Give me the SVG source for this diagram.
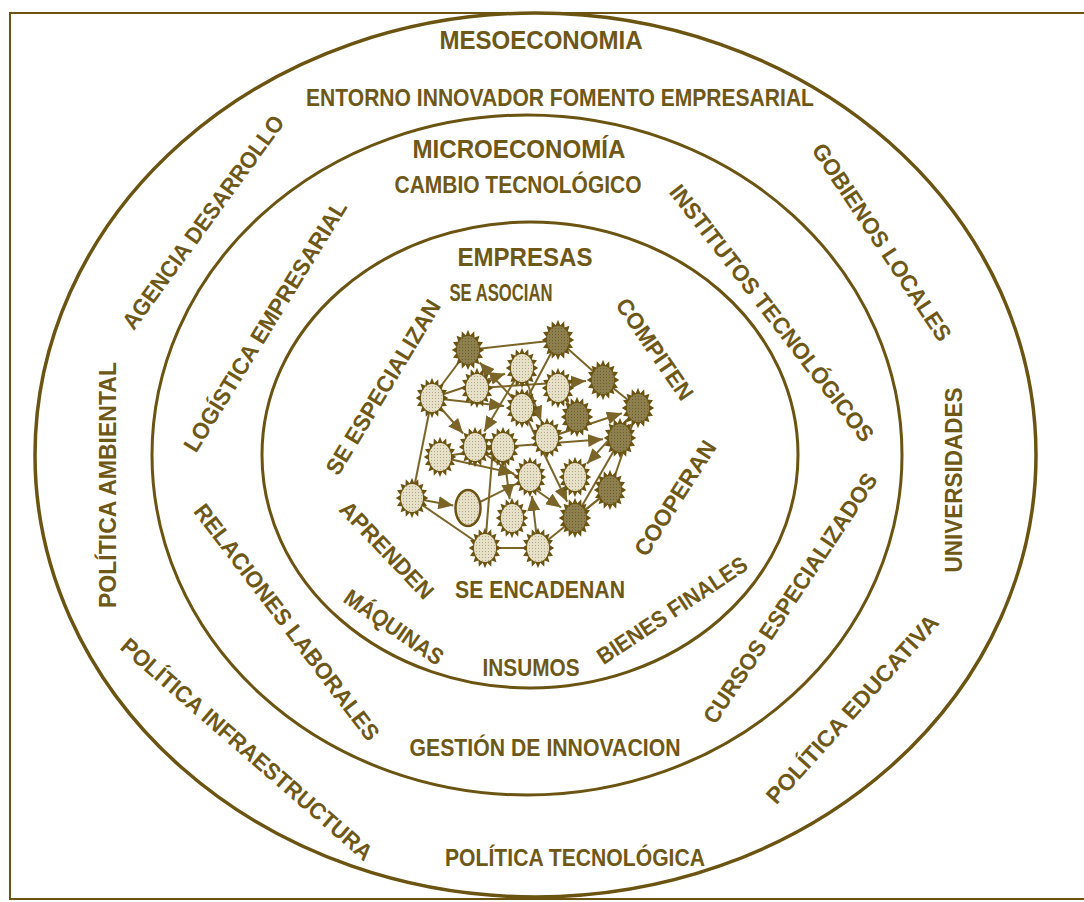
<svg xmlns="http://www.w3.org/2000/svg" xmlns:xlink="http://www.w3.org/1999/xlink" width="1084" height="902" viewBox="0 0 1084 902">
<style>
.ring{fill:none;stroke:#6b5412;}
.t{font-family:"Liberation Sans",Arial,sans-serif;font-weight:700;font-size:23px;fill:#6e5818;}
.tt{font-family:"Liberation Sans Narrow","Liberation Sans",Arial,sans-serif;font-weight:700;font-size:26px;fill:#6e5818;}
.r{text-anchor:middle;}
.c{stroke:#7a6428;stroke-width:2;fill:none;}
.a{marker-end:url(#ah);}
.frame{fill:none;stroke:#6b5412;stroke-width:2;}
</style>
<defs>
<marker id="ah" markerUnits="userSpaceOnUse" markerWidth="15" markerHeight="13" refX="15" refY="6.5" orient="auto">
<path d="M0,0 L15,6.5 L0,13 z" fill="#7a6428"/>
</marker>
<pattern id="dotL" width="3" height="3" patternUnits="userSpaceOnUse">
<rect width="3" height="3" fill="#e6e0c8"/><rect width="1" height="1" fill="#b3a884"/>
</pattern>
<pattern id="dotD" width="3" height="3" patternUnits="userSpaceOnUse">
<rect width="3" height="3" fill="#8e7f4f"/><rect width="1" height="1" fill="#6a5c30"/>
</pattern>
<polygon id="star" transform="scale(1.12)" points="14.5,0 10.3,2.63 13.4,6.89 8.73,7.5 10.25,12.73 5.83,11.23 5.55,16.63 2.05,13.24 0,18 -2.05,13.24 -5.55,16.63 -5.83,11.23 -10.25,12.73 -8.73,7.5 -13.4,6.89 -10.3,2.63 -14.5,0 -10.3,-2.63 -13.4,-6.89 -8.73,-7.5 -10.25,-12.73 -5.83,-11.23 -5.55,-16.63 -2.05,-13.24 0,-18 2.05,-13.24 5.55,-16.63 5.83,-11.23 10.25,-12.73 8.73,-7.5 13.4,-6.89 10.3,-2.63" fill="#6b5412"/>
<g id="starL"><use href="#star"/><ellipse rx="11" ry="14" fill="url(#dotL)"/></g>
<g id="starD"><use href="#star"/><ellipse rx="11" ry="14" fill="url(#dotD)"/></g>
</defs>
<rect width="1084" height="902" fill="#ffffff"/>
<path class="frame" d="M1084,13 H10 V899 H1084"/>

<g id="mesoeconomia">
<ellipse class="ring" cx="535.5" cy="455" rx="500.5" ry="442" stroke-width="3.5"/>
<text class="tt r" x="541" y="49" textLength="203" lengthAdjust="spacingAndGlyphs">MESOECONOMIA</text>
<text class="t r" x="560" y="106" textLength="508" lengthAdjust="spacingAndGlyphs">ENTORNO INNOVADOR FOMENTO EMPRESARIAL</text>
<text class="t r" transform="translate(203,222) rotate(-54)" dy="8.2" textLength="258" lengthAdjust="spacingAndGlyphs">AGENCIA DESARROLLO</text>
<text class="t r" transform="translate(108,485) rotate(-90)" dy="8.2" textLength="246" lengthAdjust="spacingAndGlyphs">POLÍTICA AMBIENTAL</text>
<text class="t r" transform="translate(247,749) rotate(41)" dy="8.2" textLength="325" lengthAdjust="spacingAndGlyphs">POLÍTICA INFRAESTRUCTURA</text>
<text class="t r" x="575" y="866" textLength="260" lengthAdjust="spacingAndGlyphs">POLÍTICA TECNOLÓGICA</text>
<text class="t r" transform="translate(852,709) rotate(-48)" dy="8.2" textLength="245" lengthAdjust="spacingAndGlyphs">POLÍTICA EDUCATIVA</text>
<text class="t r" transform="translate(954,480) rotate(-90)" dy="8.2" textLength="185" lengthAdjust="spacingAndGlyphs">UNIVERSIDADES</text>
<text class="t r" transform="translate(882,242) rotate(56.4)" dy="8.2" textLength="232" lengthAdjust="spacingAndGlyphs">GOBIENOS LOCALES</text>
</g>

<g id="microeconomia">
<ellipse class="ring" cx="527" cy="455" rx="375" ry="340" stroke-width="3"/>
<text class="tt r" x="519" y="158" textLength="213" lengthAdjust="spacingAndGlyphs">MICROECONOMÍA</text>
<text class="t r" x="518" y="193" textLength="247" lengthAdjust="spacingAndGlyphs">CAMBIO TECNOLÓGICO</text>
<text class="t r" transform="translate(265,326) rotate(-58.4)" dy="8.2" textLength="290" lengthAdjust="spacingAndGlyphs">LOGÍSTICA EMPRESARIAL</text>
<text class="t r" transform="translate(287,622) rotate(52.8)" dy="8.2" textLength="290" lengthAdjust="spacingAndGlyphs">RELACIONES LABORALES</text>
<text class="t r" x="545" y="756" textLength="271" lengthAdjust="spacingAndGlyphs">GESTIÓN DE INNOVACION</text>
<text class="t r" transform="translate(790,598) rotate(-56.4)" dy="8.2" textLength="295" lengthAdjust="spacingAndGlyphs">CURSOS ESPECIALIZADOS</text>
<text class="t r" transform="translate(772,313) rotate(52.3)" dy="8.2" textLength="318" lengthAdjust="spacingAndGlyphs">INSTITUTOS TECNOLÓGICOS</text>
</g>

<g id="empresas">
<ellipse class="ring" cx="530" cy="455" rx="268" ry="233" stroke-width="3"/>
<text class="tt r" x="525" y="266" textLength="135" lengthAdjust="spacingAndGlyphs">EMPRESAS</text>
<text class="t r" x="501" y="301" textLength="103" lengthAdjust="spacingAndGlyphs">SE ASOCIAN</text>
<text class="t r" transform="translate(383,387) rotate(-58.9)" dy="8.2" textLength="200" lengthAdjust="spacingAndGlyphs">SE ESPECIALIZAN</text>
<text class="t r" transform="translate(655,349) rotate(55.5)" dy="8.2" textLength="118" lengthAdjust="spacingAndGlyphs">COMPITEN</text>
<text class="t r" transform="translate(675,498) rotate(-57.5)" dy="8.2" textLength="132" lengthAdjust="spacingAndGlyphs">COOPERAN</text>
<text class="t r" transform="translate(387,550) rotate(46.6)" dy="8.2" textLength="125" lengthAdjust="spacingAndGlyphs">APRENDEN</text>
<text class="t r" x="540" y="598" textLength="170" lengthAdjust="spacingAndGlyphs">SE ENCADENAN</text>
<text class="t r" transform="translate(394,627) rotate(34.4)" dy="8.2" textLength="115" lengthAdjust="spacingAndGlyphs">MÁQUINAS</text>
<text class="t r" x="531" y="676" textLength="97" lengthAdjust="spacingAndGlyphs">INSUMOS</text>
<text class="t r" transform="translate(672,610) rotate(-33.5)" dy="8.2" textLength="175" lengthAdjust="spacingAndGlyphs">BIENES FINALES</text>
</g>

<g id="connectors">
<line class="c" x1="468" y1="350" x2="558" y2="340"/>
<line class="c" x1="558" y1="340" x2="603" y2="380"/>
<line class="c" x1="603" y1="380" x2="638" y2="408"/>
<line class="c" x1="432" y1="398" x2="468" y2="350"/>
<line class="c" x1="412" y1="498" x2="432" y2="398"/>
<line class="c" x1="412" y1="498" x2="485" y2="548"/>
<line class="c" x1="485" y1="548" x2="538" y2="548"/>
<line class="c" x1="538" y1="548" x2="610" y2="490"/>
<line class="c" x1="485" y1="548" x2="493" y2="447"/>
<line class="c" x1="468" y1="508" x2="530" y2="477"/>
<line class="c" x1="575" y1="518" x2="610" y2="490"/>
<line class="c" x1="638" y1="408" x2="610" y2="490"/>
<line class="c" x1="440" y1="457" x2="503" y2="447"/>
<line class="c" x1="558" y1="388" x2="577" y2="417"/>
<line class="c" x1="558" y1="340" x2="522" y2="408"/>
<line class="c a" x1="522" y1="408" x2="479.6" y2="362.5"/>
<line class="c a" x1="432" y1="398" x2="504.1" y2="406"/>
<line class="c a" x1="432" y1="398" x2="505" y2="373.7"/>
<line class="c a" x1="522" y1="368" x2="484.2" y2="431.5"/>
<line class="c a" x1="432" y1="398" x2="463.1" y2="433.5"/>
<line class="c a" x1="522" y1="368" x2="541" y2="421"/>
<line class="c a" x1="477" y1="388" x2="586" y2="381.1"/>
<line class="c a" x1="547" y1="438" x2="621.9" y2="413.3"/>
<line class="c a" x1="503" y1="447" x2="603" y2="439.3"/>
<line class="c a" x1="440" y1="457" x2="513.4" y2="473.3"/>
<line class="c a" x1="475" y1="447" x2="561.1" y2="507.5"/>
<line class="c a" x1="522" y1="408" x2="567.2" y2="501.8"/>
<line class="c a" x1="503" y1="447" x2="509.7" y2="499.2"/>
<line class="c a" x1="538" y1="548" x2="532" y2="495.9"/>
<line class="c a" x1="412" y1="498" x2="453.3" y2="505.4"/>
<line class="c a" x1="575" y1="518" x2="629" y2="424.5"/>
<line class="c a" x1="638" y1="408" x2="587.1" y2="463.7"/>
</g>

<g id="n1" transform="translate(468,350)"><use href="#starD"/></g>
<g id="n2" transform="translate(558,340)"><use href="#starD"/></g>
<g id="n3" transform="translate(522,368)"><use href="#starL"/></g>
<g id="n4" transform="translate(477,388)"><use href="#starL"/></g>
<g id="n5" transform="translate(432,398)"><use href="#starL"/></g>
<g id="n6" transform="translate(558,388)"><use href="#starL"/></g>
<g id="n7" transform="translate(603,380)"><use href="#starD"/></g>
<g id="n8" transform="translate(522,408)"><use href="#starL"/></g>
<g id="n9" transform="translate(577,417)"><use href="#starD"/></g>
<g id="n10" transform="translate(638,408)"><use href="#starD"/></g>
<g id="n11" transform="translate(475,447)"><use href="#starL"/></g>
<g id="n12" transform="translate(503,447)"><use href="#starL"/></g>
<g id="n13" transform="translate(547,438)"><use href="#starL"/></g>
<g id="n14" transform="translate(620,438)"><use href="#starD"/></g>
<g id="n15" transform="translate(440,457)"><use href="#starL"/></g>
<g id="n16" transform="translate(530,477)"><use href="#starL"/></g>
<g id="n17" transform="translate(575,477)"><use href="#starL"/></g>
<g id="n18" transform="translate(610,490)"><use href="#starD"/></g>
<g id="n19" transform="translate(412,498)"><use href="#starL"/></g>
<g id="n20" transform="translate(468,508)"><ellipse rx="12.5" ry="18" fill="url(#dotL)" stroke="#6b5412" stroke-width="2.5"/></g>
<g id="n21" transform="translate(512,518)"><use href="#starL"/></g>
<g id="n22" transform="translate(575,518)"><use href="#starD"/></g>
<g id="n23" transform="translate(485,548)"><use href="#starL"/></g>
<g id="n24" transform="translate(538,548)"><use href="#starL"/></g>
</svg>
